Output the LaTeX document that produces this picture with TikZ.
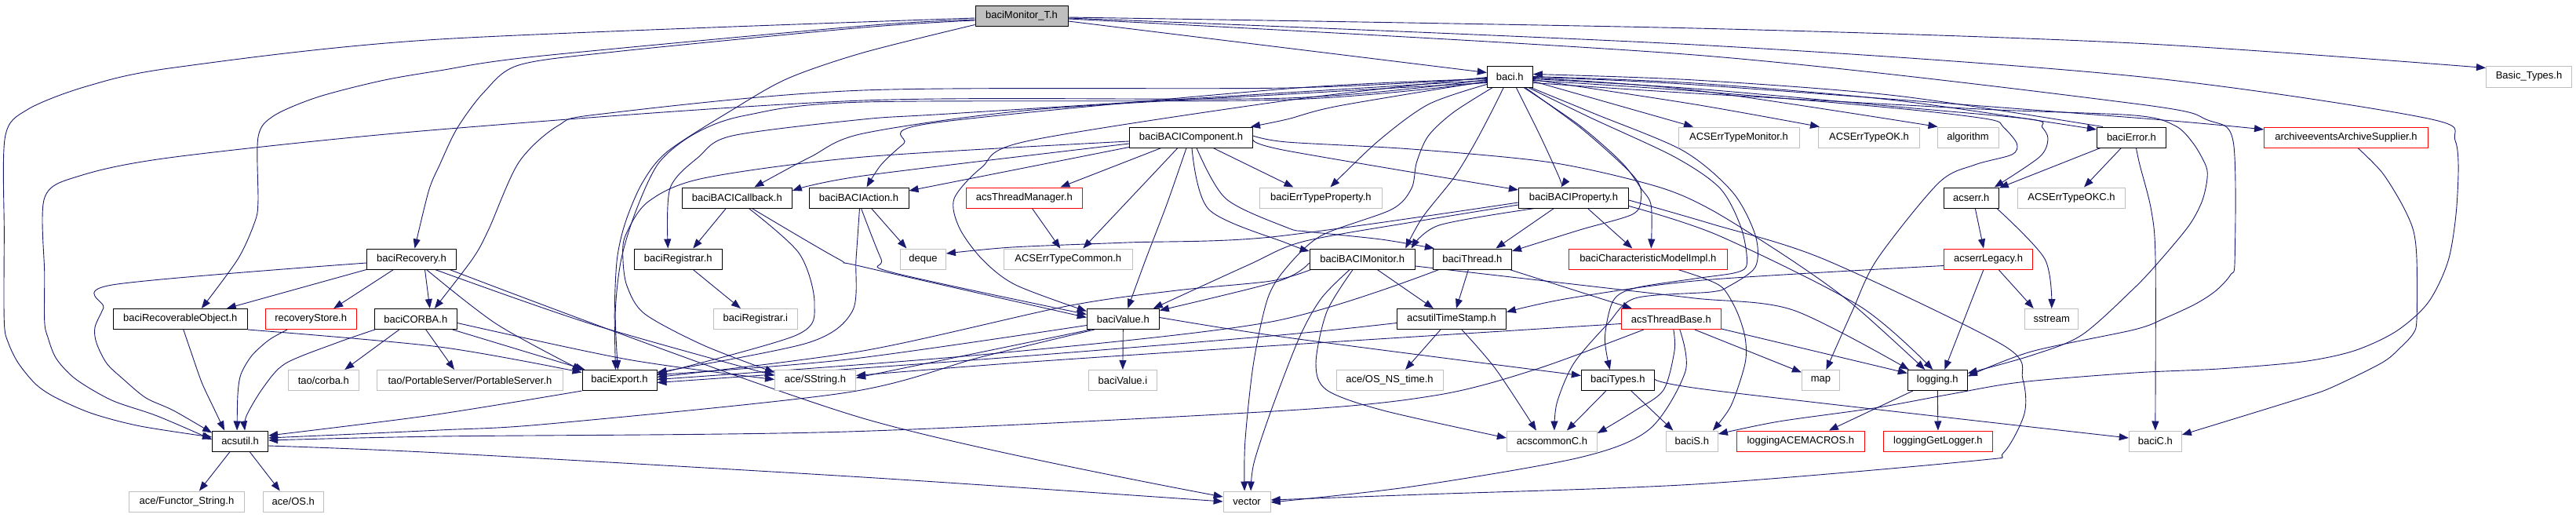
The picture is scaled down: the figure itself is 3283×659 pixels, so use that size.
\documentclass[tikz,border=0pt]{standalone}
\usepackage{fontspec}
\setmainfont{Liberation Sans}
\usetikzlibrary{arrows.meta,calc}
\definecolor{edgeblue}{HTML}{191970}
\definecolor{greyb}{HTML}{BFBFBF}
\pgfmathdeclarefunction{qx}{1}{\pgfmathparse{(#1<531)?(#1*1.0714):((#1<1071)?(540+(#1-540)*1.0714):((#1<1611)?(1080+(#1-1080)*1.0714):((#1<2151)?(1620+(#1-1620)*1.0714):((#1<2701)?(2160+(#1-2160)*1.0714):(2720+(#1-2720)*1.0772)))))}}
\pgfdeclarelayer{bg}
\pgfdeclarelayer{edges}
\pgfsetlayers{bg,edges,main}
\tikzset{
  nd/.style={draw, line width=1pt, fill=white, minimum height=26pt, inner sep=0pt, font=\fontsize{13}{15}\selectfont, text=black},
  docn/.style={nd, draw=black},
  extn/.style={nd, draw=greyb},
  trn/.style={nd, draw=red},
  edg/.style={draw=edgeblue, line width=0.9pt, -{Triangle[length=12pt,width=9pt]}},
}
\newcommand{\E}[1]{\draw[edg] plot[smooth,tension=0.5] coordinates {#1};}
\begin{document}
\begin{tikzpicture}[x=1pt,y=-1pt]
\useasboundingbox (0,0) rectangle (3283,659);
\begin{pgfonlayer}{bg}
\fill[white] (0,0) rectangle (3283,659);
\end{pgfonlayer}
% nodes
\node[docn, fill=greyb, minimum width=118pt] (BM) at (1302,20) {baciMonitor\_T.h};
\node[docn, minimum width=58pt, minimum height=27pt] (baci) at (1924.3,97.5) {baci.h};
\node[extn, minimum width=109pt, minimum height=27pt] (btypes) at (3223,97.5) {Basic\_Types.h};
\node[extn, minimum width=154pt] (AETM) at (2216,175) {ACSErrTypeMonitor.h};
\node[extn, minimum width=129pt] (AETOK) at (2382,175) {ACSErrTypeOK.h};
\node[extn, minimum width=78pt] (algo) at (2508,175) {algorithm};
\node[docn, minimum width=88pt] (berr) at (2716.4,175) {baciError.h};
\node[trn, minimum width=209pt] (arch) at (2990,175) {archiveeventsArchiveSupplier.h};
\node[docn, minimum width=157pt] (BC) at (1518,175) {baciBACIComponent.h};
\node[extn, minimum width=156pt] (errprop) at (1683.4,252) {baciErrTypeProperty.h};
\node[docn, minimum width=140pt] (prop) at (2005.4,252) {baciBACIProperty.h};
\node[docn, minimum width=140pt] (cb) at (939.3,252) {baciBACICallback.h};
\node[docn, minimum width=127pt] (act) at (1094.5,252) {baciBACIAction.h};
\node[trn, minimum width=148pt] (tm) at (1305.4,252) {acsThreadManager.h};
\node[docn, minimum width=70pt] (acserr) at (2512.3,252) {acserr.h};
\node[extn, minimum width=137pt] (okc) at (2640,252) {ACSErrTypeOKC.h};
\node[docn, minimum width=114pt] (rec) at (524.5,330) {baciRecovery.h};
\node[docn, minimum width=112pt] (reg) at (864.3,330) {baciRegistrar.h};
\node[extn, minimum width=58pt] (deque) at (1176.4,330) {deque};
\node[extn, minimum width=164pt] (common) at (1361.3,330) {ACSErrTypeCommon.h};
\node[docn, minimum width=134pt] (mon) at (1736.2,330) {baciBACIMonitor.h};
\node[docn, minimum width=100pt] (thr) at (1876.4,330) {baciThread.h};
\node[trn, minimum width=202pt] (cmi) at (2100.3,330) {baciCharacteristicModelImpl.h};
\node[trn, minimum width=113pt] (legacy) at (2534,330) {acserrLegacy.h};
\node[docn, minimum width=171pt] (robj) at (229.8,406.5) {baciRecoverableObject.h};
\node[trn, minimum width=116pt] (store) at (396.2,406.5) {recoveryStore.h};
\node[docn, minimum width=105pt] (corba) at (529.8,406.5) {baciCORBA.h};
\node[docn, minimum width=92pt] (val) at (1431.3,406.5) {baciValue.h};
\node[extn, minimum width=107pt] (regi) at (962.9,406.5) {baciRegistrar.i};
\node[docn, minimum width=139pt] (ts) at (1849.9,406.5) {acsutilTimeStamp.h};
\node[trn, minimum width=127pt] (tb) at (2129.8,406.5) {acsThreadBase.h};
\node[extn, minimum width=68pt] (sstream) at (2614.7,406.5) {sstream};
\node[extn, minimum width=90pt] (taocorba) at (412.3,484.5) {tao/corba.h};
\node[extn, minimum width=237pt] (taops) at (599,484.5) {tao/PortableServer/PortableServer.h};
\node[docn, minimum width=95pt] (exp) at (789.5,484.5) {baciExport.h};
\node[extn, minimum width=103pt] (sstr) at (1039,484.5) {ace/SString.h};
\node[extn, minimum width=87pt] (vali) at (1430.9,484.5) {baciValue.i};
\node[extn, minimum width=136pt] (ostime) at (1771,484.5) {ace/OS\_NS\_time.h};
\node[docn, minimum width=93pt] (types) at (2061.8,484.5) {baciTypes.h};
\node[extn, minimum width=48pt] (map) at (2320.4,484.5) {map};
\node[docn, minimum width=76pt] (logging) at (2469.3,484.5) {logging.h};
\node[docn, minimum width=71pt] (acsutil) at (306.1,562) {acsutil.h};
\node[extn, minimum width=115pt] (acscommon) at (1977.9,562) {acscommonC.h};
\node[extn, minimum width=66pt] (baciS) at (2156.3,562) {baciS.h};
\node[trn, minimum width=163pt] (macros) at (2294.8,562) {loggingACEMACROS.h};
\node[trn, minimum width=139pt] (getlog) at (2469.9,562) {loggingGetLogger.h};
\node[extn, minimum width=67pt] (baciC) at (2746.8,562) {baciC.h};
\node[extn, minimum width=147pt] (functor) at (237.9,639) {ace/Functor\_String.h};
\node[extn, minimum width=77pt] (os) at (373.8,639) {ace/OS.h};
\node[extn, minimum width=60pt] (vector) at (1589.1,639) {vector};

\begin{pgfonlayer}{edges}
% baciMonitor_T.h
\draw[edg] ($(BM.east)+(0,7)$) -- ($(baci.west)+(0,-5)$);
\E{($(BM.east)+(0,2)$) ({qx(2160)},36) ({qx(2720)},55) ($(btypes.north west)+(0,3)$)}
\E{($(BM.east)+(0,3)$) ({qx(2160)},57) ({qx(2720)},97) ({qx(3063)},150) ({qx(3100)},180) ({qx(3102)},255) ({qx(3092)},330) ({qx(3068)},385) ({qx(3030)},422) ({qx(2980)},447) ({qx(2918)},461) ({qx(2820)},470) ({qx(2683)},475) ({qx(2547)},487) ({qx(2460)},503) ({qx(2373)},520) ({qx(2260)},537) ($(baciS.east)+(0,-9)$)}
\E{($(BM.east)+(0,4)$) ({qx(2160)},70) ({qx(2720)},132) ({qx(2807)},153) ({qx(2837)},180) ({qx(2839)},330) ({qx(2834)},350) ({qx(2817)},370) ({qx(2793)},387) ({qx(2757)},405) ({qx(2720)},420) ({qx(2560)},448) ($(logging.east)+(0,-5)$)}
\E{($(BM.west)+(0,3)$) ({qx(523)},50) ({qx(208)},86) ({qx(103)},110) ({qx(32)},140) ({qx(6)},175) ({qx(5)},300) ({qx(5)},410) ({qx(10)},437) ({qx(22)},463) ({qx(43)},490) ({qx(67)},507) ({qx(110)},527) ({qx(167)},543) ($(acsutil.west)+(0,-5)$)}
\E{($(BM.west)+(0,5)$) ({qx(1063)},33) ({qx(673)},72) (560,90) ({qx(453)},103) ({qx(377)},124) ({qx(325)},148) ({qx(307)},175) ({qx(307)},257) ({qx(303)},283) ({qx(283)},330) ($(robj.north)+(27,0)$)}
\E{($(BM.west)+(0,6)$) ({qx(1063)},35) ({qx(767)},66) ({qx(653)},83) ({qx(612)},117) ({qx(580)},163) ({qx(523)},210) ({qx(510)},243) ($(rec.north)+(4,0)$)}
\E{($(BM.south west)+(0,-2)$) ({qx(1063)},67) ({qx(973)},100) ({qx(907)},140) ({qx(830)},193) ({qx(800)},233) ({qx(780)},283) ({qx(770)},330) ({qx(767)},397) ($(exp.north)+(-5,0)$)}
% baci.h to the left
\E{($(baci.west)+(0,6)$) ({qx(1700)},135) ({qx(1603)},152) ($(BC.north east)+(-3,0)$)}
\E{($(baci.west)+(0,3)$) ({qx(1603)},113) ({qx(1180)},157) ({qx(1147)},183) ({qx(1120)},210) ($(act.north)+(10,0)$)}
\E{($(baci.west)+(0,8)$) ({qx(1603)},120) ({qx(1300)},140) ({qx(1063)},170) ({qx(1000)},200) ($(cb.north)+(22,0)$)}
\E{($(baci.west)+(0,5)$) ({qx(1603)},118) ({qx(1200)},145) ({qx(1063)},152) ({qx(907)},173) ({qx(867)},200) ({qx(833)},240) ($(reg.north)+(-13,0)$)}
\E{($(baci.west)+(0,2)$) ({qx(1603)},112) ({qx(1063)},115) ({qx(753)},145) ({qx(700)},160) ({qx(653)},207) ({qx(617)},293) ({qx(598)},330) ($(corba.north)+(24,0)$)}
\E{($(baci.west)+(0,4)$) ({qx(1603)},125) ({qx(1063)},128) ({qx(523)},165) ({qx(208)},200) ({qx(95)},224) ({qx(53)},252) ({qx(53)},350) ({qx(53)},410) ({qx(57)},430) ({qx(67)},457) ({qx(90)},483) ({qx(133)},510) ({qx(187)},530) ($(acsutil.west)+(0,-2)$)}
\E{($(baci.west)+(0,7)$) ({qx(1603)},127) ({qx(1063)},130) ({qx(923)},147) ({qx(863)},170) ({qx(820)},207) ({qx(793)},267) ({qx(775)},330) ({qx(768)},397) ($(exp.north)+(-2,0)$)}
\E{($(baci.west)+(0,1)$) ({qx(1603)},128) ({qx(1293)},180) ({qx(1240)},213) ({qx(1207)},253) ({qx(1213)},290) ({qx(1240)},330) ({qx(1280)},363) ($(val.west)+(0,-10)$)}
% baci.h downward
\E{($(baci.south west)+(0,-4)$) ({qx(1807)},133) ({qx(1747)},180) ($(errprop.north)+(12,0)$)}
\E{($(baci.south)+(-8,0)$) ({qx(1880)},147) ({qx(1860)},187) ({qx(1837)},227) ({qx(1800)},277) ($(mon.north)+(55,0)$)}
\E{($(baci.south)+(-22,0)$) ({qx(1837)},143) ({qx(1807)},173) ({qx(1793)},207) ({qx(1787)},240) ({qx(1763)},267) ({qx(1680)},300) ({qx(1603)},340) ({qx(1580)},380) ({qx(1563)},463) ({qx(1553)},563) ($(vector.north)+(-3,0)$)}
\E{($(baci.south)+(8,0)$) ({qx(1940)},173) ({qx(1963)},227) ($(prop.north)+(-16,0)$)}
\E{($(baci.south east)+(-12,0)$) ({qx(1987)},160) ({qx(2037)},207) ({qx(2060)},240) ({qx(2072)},262) ($(cmi.north)+(4,0)$)}
\E{($(baci.south east)+(-10,0)$) ({qx(1987)},162) ({qx(2037)},209) ({qx(2057)},233) ({qx(2060)},253) ({qx(2050)},273) ({qx(1987)},293) ($(thr.east)+(0,-10)$)}
\E{($(baci.south east)+(-6,0)$) ({qx(2000)},150) ({qx(2100)},200) ({qx(2190)},240) ({qx(2215)},290) ({qx(2222)},335) ({qx(2210)},347) ({qx(2160)},355) ({qx(2053)},367) ({qx(2027)},383) ({qx(2017)},430) ($(types.north)+(-10,0)$)}
\E{($(baci.south east)+(-3,0)$) ({qx(2005)},145) ({qx(2110)},192) ({qx(2205)},245) ({qx(2232)},300) ({qx(2232)},340) ({qx(2200)},365) ({qx(2143)},372) ({qx(2053)},380) ({qx(2020)},413) ({qx(1980)},463) ({qx(1960)},513) ($(acscommon.north)+(3,0)$)}
% baci.h to the right
\draw[edg] ($(baci.east)+(0,6)$) -- ($(AETM.north)+(-58,0)$);
\E{($(baci.east)+(0,4)$) ({qx(2160)},133) ($(AETOK.north west)+(2,0)$)}
\E{($(baci.east)+(0,2)$) ({qx(2160)},115) ($(algo.north west)+(1,0)$)}
\E{($(baci.east)+(0,0)$) ({qx(2160)},106) ({qx(2400)},128) ($(berr.west)+(0,-10)$)}
\E{($(berr.north west)+(8,0)$) ({qx(2400)},122) ({qx(2160)},102) ($(baci.east)+(0,-3)$)}
\E{($(baci.east)+(0,1)$) ({qx(2160)},108) ({qx(2720)},150) ($(arch.west)+(0,-10)$)}
\E{($(baci.east)+(0,3)$) ({qx(2160)},113) ({qx(2400)},136) ({qx(2560)},152) ({qx(2573)},162) ({qx(2580)},177) ({qx(2570)},200) ($(acserr.north east)+(-6,0)$)}
\E{($(baci.east)+(0,5)$) ({qx(2160)},116) ({qx(2400)},138) ({qx(2510)},152) ({qx(2527)},162) ({qx(2543)},183) ({qx(2537)},197) ({qx(2493)},210) ({qx(2450)},233) ({qx(2377)},330) ({qx(2347)},397) ($(map.north)+(7,0)$)}
\E{($(baci.east)+(0,8)$) ({qx(2160)},119) ({qx(2500)},139) ({qx(2720)},147) ({qx(2768)},160) ({qx(2790)},183) ({qx(2805)},212) ({qx(2806)},230) ({qx(2800)},257) ({qx(2785)},287) ({qx(2752)},330) ({qx(2720)},367) ({qx(2620)},427) ({qx(2560)},453) ($(logging.east)+(0,-9)$)}
% baciBACIComponent.h
\E{($(BC.west)+(0,5)$) ({qx(1063)},200) ({qx(873)},227) ({qx(807)},257) ({qx(780)},300) ({qx(777)},330) ({qx(782)},365) ({qx(803)},400) ({qx(873)},440) ($(sstr.west)+(0,-10)$)}
\E{($(BC.west)+(0,8)$) (1100,224) ($(cb.east)+(0,-9)$)}
\draw[edg] ($(BC.south west)+(0,-1)$) -- ($(act.east)+(0,-9)$);
\draw[edg] ($(BC.south)+(-38,0)$) -- ($(tm.north)+(46,0)$);
\draw[edg] ($(BC.south)+(-17,0)$) -- ($(common.north)+(19,0)$);
\E{($(BC.south)+(-6,0)$) ({qx(1460)},260) ({qx(1435)},330) ($(val.north)+(6,0)$)}
\E{($(BC.south)+(1,0)$) ({qx(1510)},267) ({qx(1603)},310) ($(mon.west)+(0,-10)$)}
\E{($(BC.south)+(7,0)$) ({qx(1530)},253) ({qx(1603)},290) (1666,295) (1760,305) ($(thr.north west)+(2,0)$)}
\draw[edg] ($(BC.south)+(28,0)$) -- ($(errprop.north)+(-35,0)$);
\E{($(BC.east)+(0,3)$) (1640,192) ($(prop.west)+(0,-10)$)}
\E{($(BC.east)+(0,-2)$) (1640,181) ({qx(1787)},190) ({qx(1953)},207) ({qx(2077)},237) ({qx(2143)},267) ({qx(2273)},330) ({qx(2347)},387) ($(logging.north)+(-16,0)$)}
% baciBACIProperty.h
\E{($(prop.east)+(0,3)$) ({qx(2143)},285) ({qx(2313)},330) ({qx(2527)},440) ({qx(2550)},483) ({qx(2552)},527) ({qx(2527)},577) ({qx(2493)},587) ({qx(2160)},617) ({qx(1800)},630) ($(vector.east)+(0,-2)$)}
\E{($(prop.west)+(0,6)$) ({qx(1620)},302) (1437,309) (1290,315) ($(deque.east)+(0,-7)$)}
\E{($(prop.south west)+(21,0)$) (1834,287) ($(mon.north east)+(-5,0)$)}
\draw[edg] ($(prop.south)+(-25,0)$) -- ($(thr.north)+(30,0)$);
\draw[edg] ($(prop.south)+(18,0)$) -- ($(cmi.north)+(-20,0)$);
\E{($(prop.west)+(0,9)$) (1800,283) (1660,308) (1590,338) ($(val.north east)+(-8,0)$)}
\E{($(prop.south east)+(0,-3)$) (2190,300) (2370,390) ($(logging.north)+(-6,0)$)}
% baciBACIMonitor.h
\E{($(mon.west)+(0,5)$) (1630,358) ($(val.east)+(0,-11)$)}
\E{($(mon.south west)+(2,0)$) (1620,358) (1500,370) (1360,390) (1100,447) ($(exp.east)+(0,-4)$)}
\E{($(mon.south)+(-16,0)$) (1684,380) (1656,430) (1620,523) (1598,590) ($(vector.north)+(5,0)$)}
\E{($(mon.south)+(-12,0)$) (1691,397) (1677,463) (1691,497) (1763,523) ($(acscommon.west)+(0,-4)$)}
\draw[edg] ($(mon.south)+(19,0)$) -- ($(ts.north)+(-23,0)$);
\E{($(mon.east)+(0,9)$) (2013,363) (2160,380) (2285,395) ($(logging.north west)+(2,0)$)}
% baciThread.h
\draw[edg] ($(thr.south)+(-5,0)$) -- ($(ts.north)+(6,0)$);
\draw[edg] ($(thr.south east)+(-3,0)$) -- ($(tb.north west)+(14,0)$);
\E{($(thr.south west)+(8,0)$) (1620,410) (1250,452) ($(exp.east)+(0,-1)$)}
% acsutilTimeStamp.h
\draw[edg] ($(ts.south)+(-14,0)$) -- ($(ostime.north)+(20,0)$);
\E{($(ts.south)+(13,0)$) (1906,470) ($(acscommon.north)+(-20,0)$)}
\E{($(ts.west)+(0,5)$) (1620,428) (1250,458) ($(exp.east)+(0,3)$)}
% acsThreadBase.h
\E{($(tb.south west)+(29,0)$) (1959,470) (1834,503) (1640,523) (1080,550) (560,556) ($(acsutil.east)+(0,-1)$)}
\E{($(tb.west)+(0,6)$) (1630,440) (1300,462) ($(sstr.east)+(0,-6)$)}
\draw[edg] ($(tb.south)+(30,0)$) -- ($(map.west)+(0,-10)$);
\draw[edg] ($(tb.south east)+(0,-1)$) -- ($(logging.west)+(0,-9)$);
\E{($(tb.south)+(3,0)$) (2134,447) (2120,497) (2084,523) ($(acscommon.east)+(0,-10)$)}
\E{($(tb.south)+(11,0)$) (2148,473) (2102,547) (2013,583) (1799,620) ($(vector.east)+(0,1)$)}
% baciTypes.h
\draw[edg] ($(types.south)+(-15,0)$) -- ($(acscommon.north)+(19,0)$);
\draw[edg] ($(types.south)+(17,0)$) -- ($(baciS.north)+(-24,0)$);
\E{($(types.east)+(0,-3)$) (2180,497) ($(baciC.west)+(0,-4)$)}
% baciValue.h
\draw[edg] (val.south) -- (vali.north);
\E{($(val.west)+(0,8)$) (1080,458) ($(exp.east)+(0,-7)$)}
\draw[edg] ($(val.south west)+(5,0)$) -- ($(sstr.east)+(0,-3)$);
\E{($(val.south west)+(10,0)$) (1250,455) (1080,500) (700,540) (560,548) ($(acsutil.east)+(0,-4)$)}
\E{($(val.east)+(0,-2)$) (1640,430) ($(types.west)+(0,-6)$)}
% baciExport.h
\E{($(exp.south west)$) (550,529) ($(acsutil.east)+(0,-7)$)}
% acsutil.h
\draw[edg] ($(acsutil.south)+(-13,0)$) -- ($(functor.north)+(16,0)$);
\draw[edg] ($(acsutil.south)+(12,0)$) -- ($(os.north)+(-17,0)$);
\E{($(acsutil.east)+(0,6)$) (560,577) (1100,608) ($(vector.west)$)}
% baciRecovery.h
\draw[edg] ($(rec.south west)$) -- ($(robj.north)+(59,0)$);
\draw[edg] ($(rec.south)+(-23,0)$) -- ($(store.north)+(29,0)$);
\draw[edg] ($(rec.south)+(17,0)$) -- ($(corba.north)+(18,0)$);
\E{($(rec.west)+(0,5)$) (142.9,363) (132,392) (121,417) (123,437) (136,463) (157,483) (186,507) (221,523) ($(acsutil.north west)+(0,3)$)}
\E{($(rec.south)+(19,0)$) (633,413) ($(exp.north west)+(0,1)$)}
\E{($(rec.south)+(30,0)$) (754,413) ($(sstr.west)+(0,-6)$)}
\E{($(rec.south east)+(-9,0)$) (1100,533) ($(vector.west)+(0,-6)$)}
% baciRecoverableObject.h
\E{($(robj.south)+(4,0)$) (243,447) (257,487) (271,517) ($(acsutil.north)+(-20,0)$)}
\E{($(robj.south east)$) (560,442) ($(exp.west)+(0,-10)$)}
% recoveryStore.h
\E{($(store.south)+(-30,0)$) (343,433) (321,453) (307,477) (303,503) ($(acsutil.north)+(-4,0)$)}
% baciCORBA.h
\draw[edg] ($(corba.south)+(-21,0)$) -- ($(taocorba.north)+(27,0)$);
\draw[edg] ($(corba.south)+(13,0)$) -- ($(taops.north)+(-20,0)$);
\E{($(corba.south west)+(1,0)$) (428.6,437) (364,463) (336,493) (314,530) ($(acsutil.north)+(6,0)$)}
\draw[edg] ($(corba.south east)+(-6,0)$) -- ($(exp.north west)+(4,0)$);
\E{($(corba.east)+(0,5)$) (800,458) ($(sstr.west)+(0,-1)$)}
% baciBACICallback.h
\draw[edg] ($(cb.south)+(-14,0)$) -- ($(reg.north)+(19,0)$);
\E{($(cb.south)+(15,0)$) (1018.6,323) (1038,387) (1015,427) ($(exp.east)+(0,-8)$)}
\E{($(cb.south)+(19,0)$) (1068.6,330) (1100,340) ($(val.west)+(0,-2)$)}
% baciBACIAction.h
\draw[edg] ($(act.south)+(16,0)$) -- ($(deque.north)+(-21,0)$);
\E{($(act.south)+(3,0)$) (1123,330) (1137,347) ($(val.west)+(0,-6)$)}
\E{($(act.south)+(1,0)$) (1091,330) (1086,397) (1029,437) ($(exp.east)+(0,-10)$)}
% misc
\draw[edg] ($(reg.south)+(19,0)$) -- ($(regi.north)+(-19,0)$);
\draw[edg] ($(tm.south)+(10,0)$) -- ($(common.north)+(-10,0)$);
% acserrLegacy.h
\E{($(legacy.south west)+(0,-5)$) (2170,357) (2000,380) ($(ts.east)+(0,-9)$)}
\draw[edg] ($(legacy.south)+(-6,0)$) -- ($(logging.north)+(9,0)$);
\draw[edg] ($(legacy.south)+(13,0)$) -- ($(sstream.north)+(-23,0)$);
% acserr.h
\draw[edg] ($(acserr.south)+(5,0)$) -- ($(legacy.north)+(-6,0)$);
\E{($(acserr.south east)+(-3,0)$) (2606,330) ($(sstream.north)$)}
% baciError.h
\draw[edg] ($(berr.south west)+(5,0)$) -- ($(acserr.north east)+(0,1)$);
\draw[edg] ($(berr.south)+(-13,0)$) -- ($(okc.north)+(16,0)$);
\E{($(berr.south)+(6,0)$) (2727,210) (2741.5,267) (2747,330) ($(baciC.north)$)}
% archiveeventsArchiveSupplier.h
\E{($(arch.south)+(15,0)$) (3036,220) (3061,260) (3075.5,293) (3080,330) (3080,407) (3075.5,425) (3059,443) (3036,462) (2973,493) (2933.6,507) ($(baciC.east)+(0,-8)$)}
% logging.h
\draw[edg] ($(logging.south west)+(7,0)$) -- ($(macros.north)+(36,0)$);
\draw[edg] (logging.south) -- (getlog.north);
% baciCharacteristicModelImpl.h
\E{($(cmi.south)+(38,0)$) (2170,354) (2195.7,367) (2213.6,397) (2224,430) (2224,463) (2206,517) ($(baciS.north east)+(-7,0)$)}
\end{pgfonlayer}
\end{tikzpicture}
\end{document}
